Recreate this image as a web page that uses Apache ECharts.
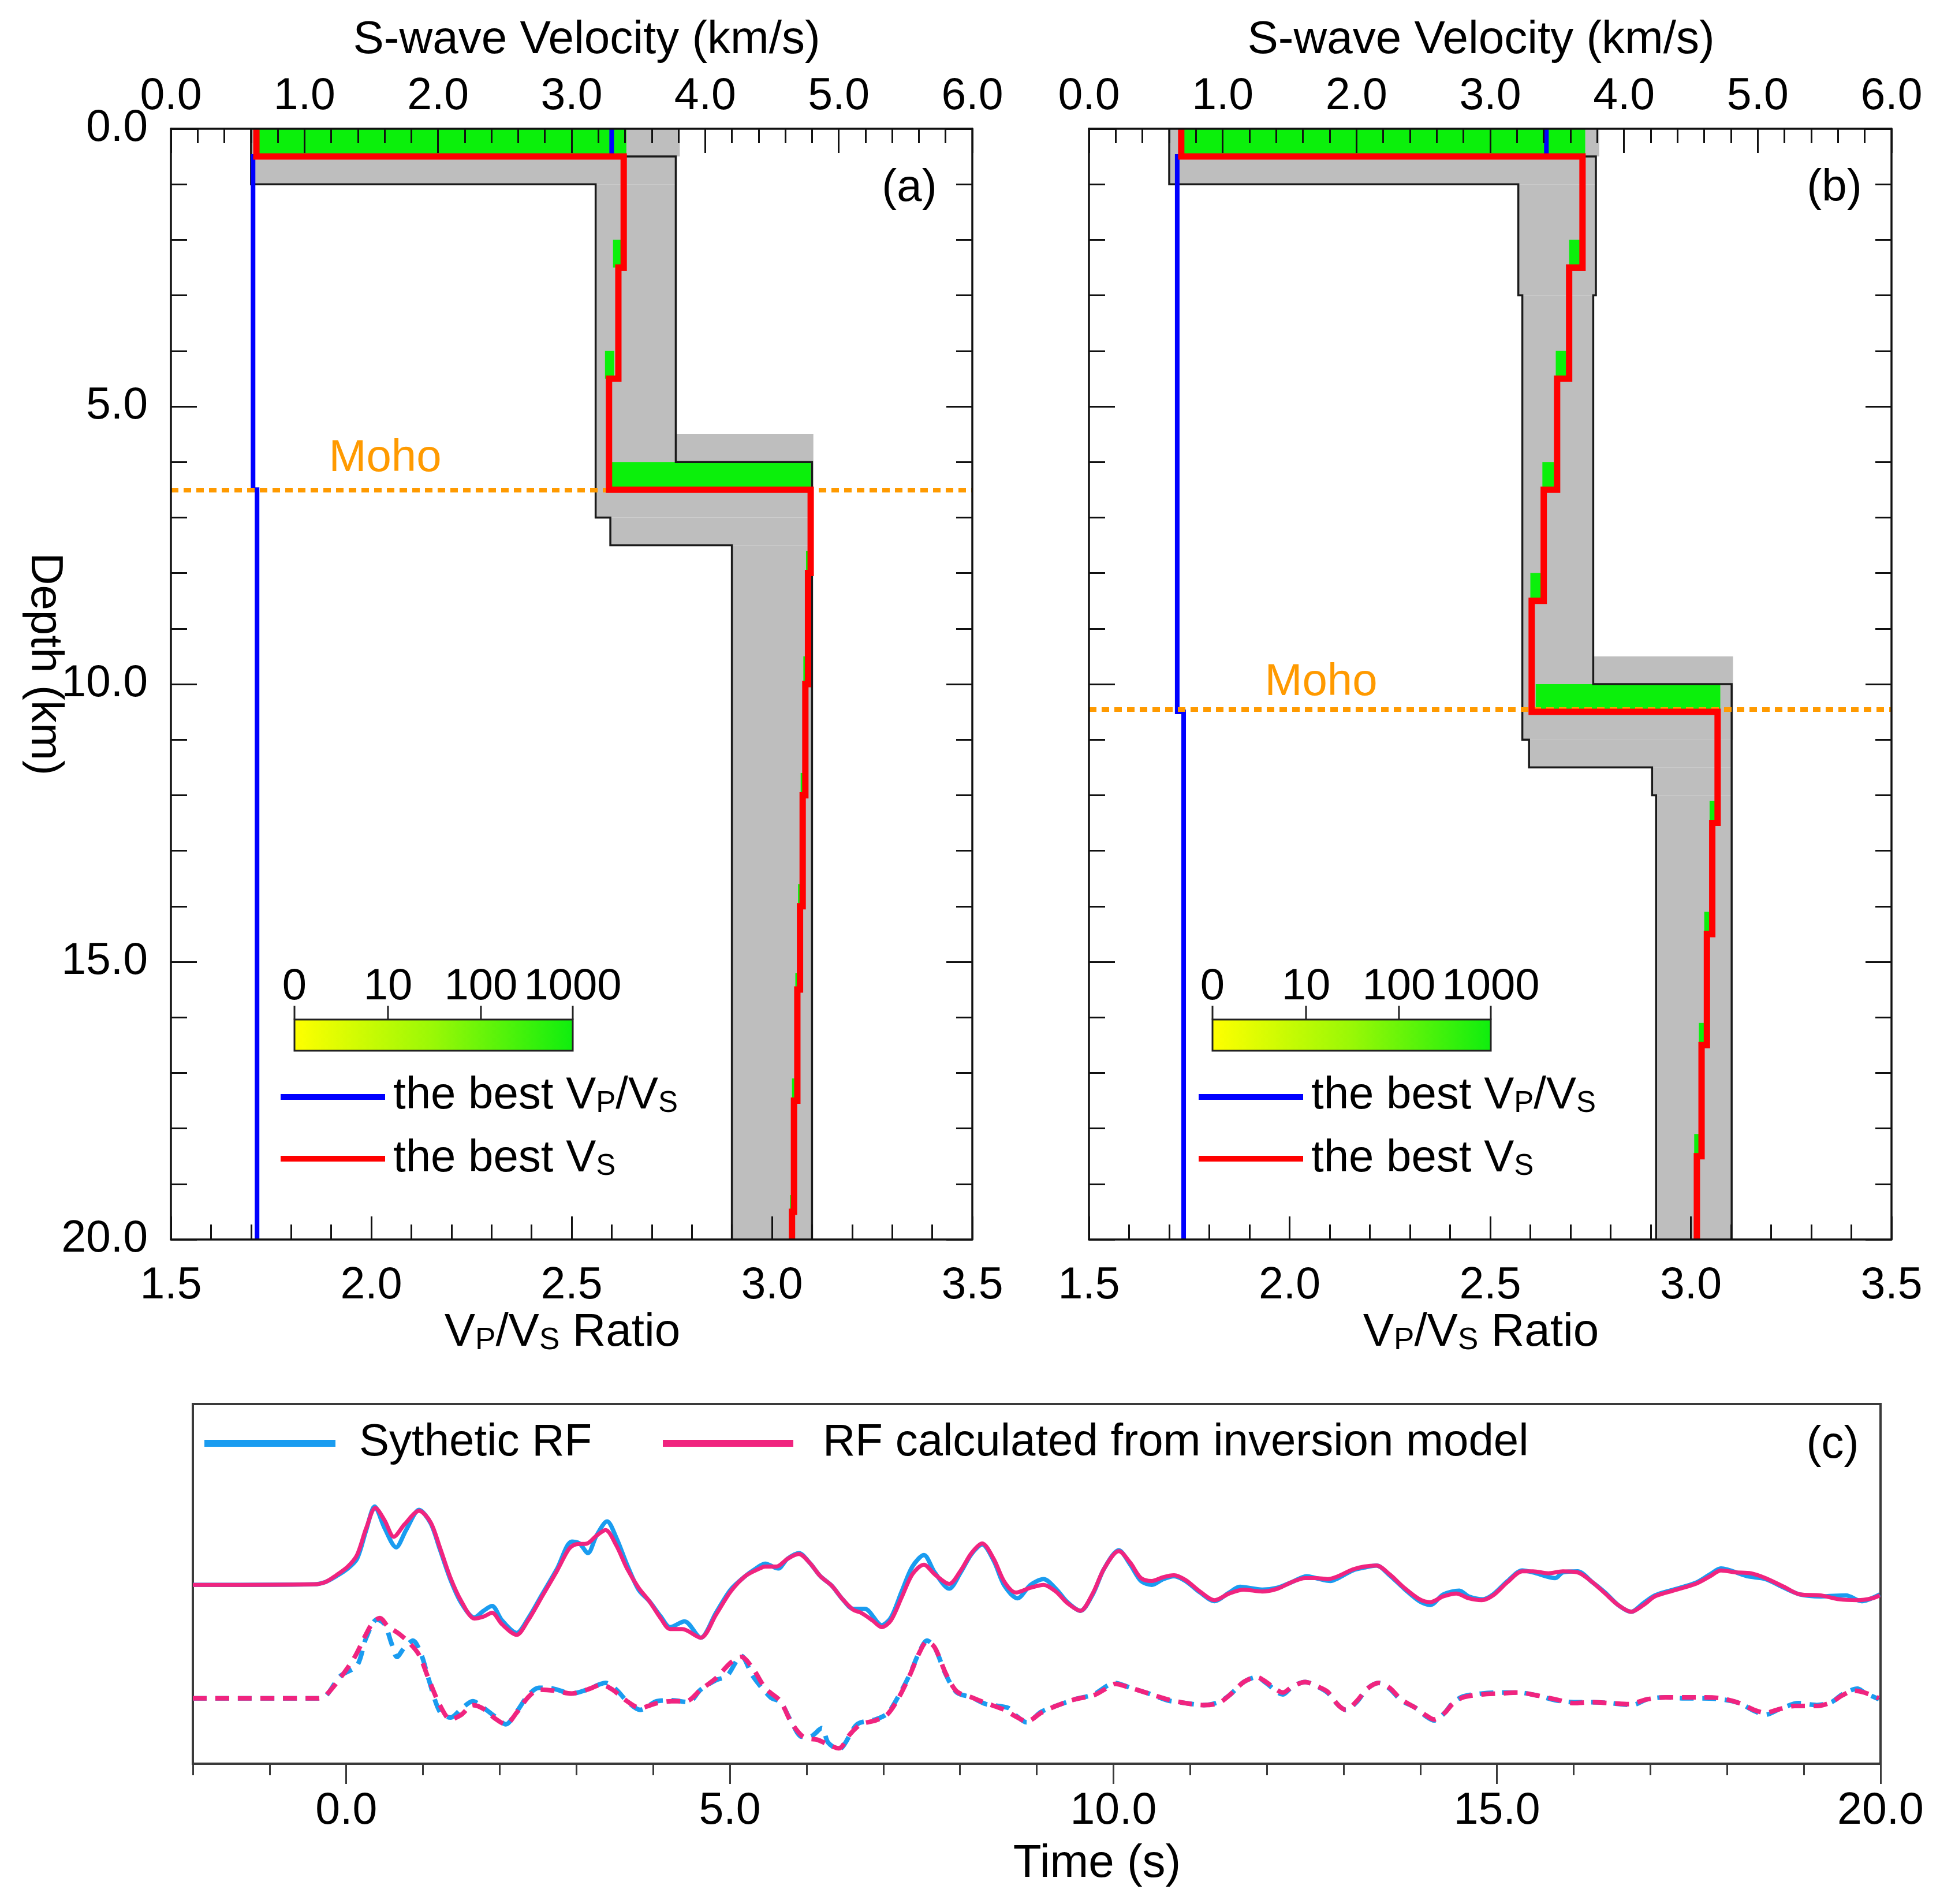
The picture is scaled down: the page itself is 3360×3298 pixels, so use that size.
<!DOCTYPE html>
<html><head><meta charset="utf-8">
<script src="https://cdn.jsdelivr.net/npm/echarts@6/dist/echarts.min.js"></script>
<style>html,body{margin:0;padding:0;background:#fff}#c{width:3360px;height:3298px}</style>
</head><body><div id="c"></div>
<script>
// ================= DATA =================
// Panel (a): layers are [depthTop, depthBottom, value]
const mohoA = 6.5;
const bestVsA = [[0,0.5,0.64],[0.5,2.5,3.39],[2.5,4.5,3.35],[4.5,6.5,3.28],[6.5,8,4.79],[8,10,4.77],[10,12,4.75],[12,14,4.73],[14,15.5,4.71],[15.5,17.5,4.69],[17.5,19.5,4.665],[19.5,20,4.65]];
const bestVpVsA = [[0,0.5,2.60],[0.5,6.5,1.705],[6.5,20,1.715]];
const minVsA = [[0,1,0.6],[1,7,3.18],[7,7.5,3.29],[7.5,20,4.2]];
const maxVsA = [[0.5,0.5,3.40],[0.5,6,3.78],[6,20,4.80]];
// cells: [depthTop, depthBottom, vsMin, vsMax]
const greyA = [[0,0.5,0.6,3.81],[0.5,1,0.6,3.78],[1,5.5,3.18,3.78],[5.5,7,3.18,4.81],[7,7.5,3.29,4.80],[7.5,20,4.2,4.80]];
const greenA = [[0,0.5,0.64,3.41],[2,2.5,3.31,3.39],[4,4.5,3.25,3.32],[6,6.5,3.29,4.79],[7.6,8,4.755,4.79],[9.5,10,4.735,4.77],[11.6,12,4.715,4.75],[13.6,14,4.695,4.73],[15.2,15.5,4.675,4.71],[17.1,17.5,4.65,4.69],[19.2,19.5,4.635,4.665]];

// Panel (b)
const mohoB = 10.45;
const bestVsB = [[0,0.5,0.69],[0.5,2.5,3.69],[2.5,4.5,3.59],[4.5,6.5,3.50],[6.5,8.5,3.40],[8.5,10.5,3.31],[10.5,12.5,4.70],[12.5,14.5,4.66],[14.5,16.5,4.62],[16.5,18.5,4.58],[18.5,20,4.545]];
const bestVpVsB = [[0,0.5,2.64],[0.5,10.5,1.72],[10.5,20,1.736]];
const minVsB = [[0,1,0.6],[1,3,3.21],[3,11,3.24],[11,11.5,3.29],[11.5,12,4.21],[12,20,4.24]];
const maxVsB = [[0.5,0.5,3.70],[0.5,3,3.79],[3,10,3.77],[10,20,4.805]];
const greyB = [[0,0.5,0.6,3.815],[0.5,1,0.6,3.79],[1,3,3.21,3.79],[3,9.5,3.24,3.77],[9.5,11,3.24,4.815],[11,11.5,3.29,4.805],[11.5,12,4.21,4.805],[12,20,4.24,4.805]];
const greenB = [[0,0.5,0.69,3.71],[2,2.5,3.59,3.67],[4,4.5,3.49,3.58],[6,6.5,3.39,3.48],[8,8.5,3.30,3.39],[10,10.5,3.34,4.72],[12.1,12.5,4.64,4.70],[14.1,14.5,4.60,4.66],[16.1,16.5,4.56,4.62],[18.1,18.5,4.525,4.58]];

const colorbarLabels = ['0','10','100','1000'];

// Panel (c): [time (s), amplitude]
const upperOffset = 0;
const lowerOffset = -0.59;
const rfSynUpper = [[-2.00,0.000],[-0.42,0.003],[-0.27,0.015],[-0.13,0.045],[0.02,0.085],[0.14,0.135],[0.26,0.285],[0.37,0.407],[0.50,0.295],[0.65,0.195],[0.78,0.285],[0.95,0.390],[1.10,0.320],[1.22,0.185],[1.36,0.025],[1.50,-0.095],[1.67,-0.170],[1.79,-0.135],[1.90,-0.110],[2.03,-0.185],[2.22,-0.250],[2.37,-0.175],[2.56,-0.045],[2.75,0.085],[2.94,0.225],[3.04,0.215],[3.15,0.165],[3.26,0.255],[3.40,0.330],[3.52,0.245],[3.66,0.105],[3.81,-0.025],[3.95,-0.085],[4.10,-0.165],[4.22,-0.220],[4.41,-0.190],[4.62,-0.275],[4.82,-0.145],[5.01,-0.025],[5.20,0.045],[5.34,0.085],[5.46,0.110],[5.63,0.085],[5.75,0.135],[5.90,0.165],[6.04,0.115],[6.18,0.045],[6.33,-0.005],[6.47,-0.075],[6.61,-0.125],[6.76,-0.125],[6.98,-0.210],[7.10,-0.170],[7.24,-0.035],[7.38,0.095],[7.53,0.155],[7.67,0.065],[7.86,-0.020],[8.01,0.065],[8.15,0.160],[8.29,0.210],[8.44,0.125],[8.58,-0.005],[8.75,-0.070],[8.92,0.000],[9.09,0.030],[9.25,-0.020],[9.40,-0.090],[9.57,-0.135],[9.73,-0.050],[9.88,0.085],[10.07,0.180],[10.22,0.105],[10.36,0.020],[10.50,0.000],[10.65,0.030],[10.79,0.045],[10.94,0.020],[11.13,-0.040],[11.32,-0.085],[11.51,-0.040],[11.65,-0.010],[11.94,-0.025],[12.14,-0.015],[12.33,0.015],[12.52,0.045],[12.64,0.035],[12.83,0.020],[12.93,0.035],[13.12,0.075],[13.27,0.090],[13.43,0.100],[13.60,0.050],[13.79,-0.020],[13.99,-0.085],[14.13,-0.105],[14.30,-0.050],[14.51,-0.030],[14.63,-0.060],[14.82,-0.075],[14.95,-0.050],[15.14,0.020],[15.33,0.075],[15.47,0.065],[15.76,0.035],[15.86,0.065],[16.05,0.070],[16.24,0.015],[16.41,-0.040],[16.58,-0.105],[16.75,-0.140],[16.91,-0.095],[17.06,-0.055],[17.30,-0.025],[17.59,0.010],[17.78,0.055],[17.92,0.085],[18.26,0.045],[18.50,0.030],[18.74,-0.015],[18.95,-0.050],[19.22,-0.060],[19.55,-0.055],[19.75,-0.085],[19.99,-0.050]];
const rfInvUpper = [[-2.00,0.000],[-0.42,0.003],[-0.27,0.015],[-0.13,0.050],[0.02,0.095],[0.14,0.155],[0.26,0.295],[0.38,0.400],[0.50,0.335],[0.62,0.250],[0.76,0.315],[0.95,0.385],[1.10,0.325],[1.22,0.195],[1.36,0.035],[1.50,-0.085],[1.67,-0.175],[1.79,-0.165],[1.90,-0.145],[2.03,-0.205],[2.22,-0.260],[2.37,-0.185],[2.56,-0.055],[2.75,0.075],[2.90,0.185],[2.99,0.210],[3.14,0.215],[3.26,0.255],[3.38,0.285],[3.52,0.205],[3.66,0.085],[3.81,-0.015],[3.95,-0.085],[4.10,-0.175],[4.22,-0.230],[4.38,-0.230],[4.62,-0.275],[4.82,-0.155],[5.01,-0.035],[5.20,0.045],[5.39,0.085],[5.46,0.095],[5.61,0.095],[5.75,0.135],[5.90,0.160],[6.04,0.115],[6.18,0.045],[6.33,-0.005],[6.47,-0.075],[6.61,-0.130],[6.71,-0.145],[6.86,-0.185],[6.98,-0.220],[7.10,-0.185],[7.24,-0.065],[7.38,0.055],[7.53,0.105],[7.67,0.055],[7.86,0.005],[8.01,0.075],[8.15,0.165],[8.29,0.215],[8.44,0.135],[8.58,0.015],[8.73,-0.040],[8.92,-0.015],[9.09,0.000],[9.25,-0.035],[9.40,-0.095],[9.57,-0.135],[9.73,-0.045],[9.88,0.085],[10.07,0.175],[10.22,0.115],[10.36,0.035],[10.50,0.020],[10.65,0.040],[10.79,0.050],[10.94,0.025],[11.13,-0.035],[11.32,-0.080],[11.51,-0.045],[11.70,-0.025],[11.94,-0.035],[12.14,-0.020],[12.33,0.015],[12.50,0.035],[12.64,0.035],[12.79,0.030],[12.93,0.045],[13.12,0.080],[13.27,0.095],[13.43,0.100],[13.60,0.055],[13.79,-0.015],[13.99,-0.075],[14.13,-0.090],[14.30,-0.060],[14.47,-0.045],[14.63,-0.070],[14.80,-0.080],[14.95,-0.055],[15.14,0.015],[15.33,0.070],[15.47,0.070],[15.67,0.060],[15.86,0.070],[16.05,0.065],[16.24,0.015],[16.41,-0.045],[16.58,-0.105],[16.75,-0.140],[16.91,-0.105],[17.06,-0.060],[17.30,-0.030],[17.59,0.005],[17.78,0.045],[17.92,0.075],[18.11,0.065],[18.31,0.060],[18.50,0.035],[18.74,-0.010],[18.95,-0.050],[19.22,-0.055],[19.46,-0.075],[19.70,-0.080],[19.89,-0.070],[19.99,-0.055]];
const rfSynLower = [[-2.00,0.000],[-0.37,0.000],[-0.27,0.010],[-0.08,0.115],[0.14,0.170],[0.26,0.315],[0.40,0.410],[0.50,0.385],[0.59,0.285],[0.66,0.215],[0.76,0.265],[0.87,0.300],[0.98,0.225],[1.07,0.105],[1.22,-0.070],[1.36,-0.100],[1.50,-0.055],[1.65,-0.015],[1.79,-0.050],[1.94,-0.095],[2.08,-0.135],[2.22,-0.070],[2.37,0.015],[2.51,0.055],[2.70,0.050],[2.94,0.025],[3.14,0.045],[3.38,0.080],[3.52,0.045],[3.66,-0.015],[3.83,-0.060],[4.05,-0.015],[4.24,-0.010],[4.46,-0.020],[4.62,0.045],[4.82,0.095],[4.96,0.115],[5.15,0.220],[5.30,0.115],[5.53,0.005],[5.66,-0.020],[5.80,-0.120],[5.94,-0.200],[6.04,-0.200],[6.20,-0.155],[6.28,-0.230],[6.42,-0.265],[6.66,-0.135],[6.90,-0.110],[7.05,-0.080],[7.19,0.005],[7.34,0.120],[7.48,0.250],[7.57,0.300],[7.67,0.265],[7.82,0.120],[7.96,0.030],[8.15,0.005],[8.34,-0.030],[8.63,-0.050],[8.73,-0.090],[8.87,-0.125],[9.06,-0.070],[9.25,-0.040],[9.50,-0.005],[9.74,0.020],[10.02,0.080],[10.22,0.055],[10.46,0.025],[10.70,-0.010],[10.94,-0.025],[11.18,-0.035],[11.37,-0.020],[11.51,0.015],[11.70,0.085],[11.87,0.110],[11.99,0.080],[12.21,0.020],[12.33,0.060],[12.50,0.085],[12.64,0.065],[12.79,0.030],[12.93,-0.035],[13.03,-0.060],[13.17,-0.020],[13.31,0.050],[13.46,0.080],[13.60,0.050],[13.75,-0.010],[13.94,-0.050],[14.08,-0.095],[14.18,-0.115],[14.32,-0.075],[14.42,-0.025],[14.56,0.010],[14.80,0.025],[15.04,0.030],[15.28,0.030],[15.52,0.015],[15.76,-0.010],[16.00,-0.020],[16.24,-0.020],[16.48,-0.025],[16.76,-0.035],[16.96,-0.005],[17.20,0.005],[17.44,0.000],[17.68,0.000],[17.92,-0.005],[18.16,-0.025],[18.35,-0.065],[18.50,-0.085],[18.69,-0.055],[18.93,-0.025],[19.17,-0.035],[19.36,-0.020],[19.50,0.020],[19.70,0.050],[19.79,0.030],[19.98,-0.005]];
const rfInvLower = [[-2.00,0.000],[-0.37,0.000],[-0.27,0.015],[-0.08,0.105],[0.11,0.215],[0.26,0.335],[0.35,0.395],[0.44,0.417],[0.54,0.375],[0.69,0.335],[0.83,0.285],[0.95,0.225],[1.07,0.105],[1.22,-0.035],[1.36,-0.110],[1.50,-0.085],[1.65,-0.035],[1.79,-0.055],[1.94,-0.105],[2.08,-0.135],[2.22,-0.075],[2.37,0.005],[2.51,0.045],[2.70,0.040],[2.94,0.025],[3.14,0.045],[3.33,0.070],[3.47,0.045],[3.66,-0.015],[3.83,-0.050],[4.05,-0.025],[4.24,-0.015],[4.43,-0.015],[4.62,0.045],[4.82,0.105],[5.01,0.185],[5.15,0.215],[5.30,0.155],[5.44,0.065],[5.51,0.035],[5.66,-0.015],[5.80,-0.125],[5.94,-0.195],[6.04,-0.210],[6.14,-0.215],[6.28,-0.240],[6.42,-0.260],[6.57,-0.185],[6.71,-0.135],[6.90,-0.115],[7.05,-0.085],[7.19,-0.005],[7.34,0.115],[7.48,0.245],[7.57,0.295],[7.67,0.265],[7.82,0.125],[7.96,0.035],[8.15,0.005],[8.34,-0.025],[8.58,-0.060],[8.73,-0.095],[8.87,-0.120],[9.06,-0.075],[9.25,-0.040],[9.50,-0.005],[9.74,0.015],[9.88,0.045],[10.02,0.075],[10.22,0.055],[10.46,0.025],[10.70,-0.005],[10.94,-0.025],[11.18,-0.035],[11.37,-0.025],[11.51,0.015],[11.70,0.085],[11.87,0.110],[11.99,0.085],[12.09,0.055],[12.21,0.030],[12.33,0.060],[12.50,0.085],[12.64,0.065],[12.79,0.035],[12.93,-0.035],[13.03,-0.060],[13.17,-0.015],[13.31,0.050],[13.46,0.080],[13.60,0.055],[13.75,-0.005],[13.94,-0.050],[14.08,-0.090],[14.18,-0.110],[14.32,-0.075],[14.42,-0.030],[14.56,0.005],[14.80,0.020],[15.04,0.025],[15.28,0.030],[15.52,0.015],[15.76,-0.005],[16.00,-0.025],[16.24,-0.020],[16.48,-0.025],[16.72,-0.030],[16.96,-0.005],[17.20,0.005],[17.44,0.005],[17.68,0.005],[17.92,0.000],[18.16,-0.025],[18.35,-0.060],[18.50,-0.075],[18.69,-0.055],[18.88,-0.040],[19.17,-0.040],[19.36,-0.020],[19.50,0.015],[19.65,0.040],[19.79,0.030],[19.98,0.000]];
const timeLabelValues = [0,5,10,15,20];

// ================= STYLE / HELPERS =================
const FONT = '"Liberation Sans", Arial, sans-serif';
const GREY = '#BEBEBE', GREEN = '#0BF00B', BLACK = '#111';
const BLUE_LINE = '#0000FF', RED_LINE = '#FF0000', MOHO = '#FF9A00';
const RF_BLUE = '#1A9CF0', RF_PINK = '#F0247F';
const TICK_FONT = 77;

function stepLine(layers){ const p=[]; layers.forEach(l=>{p.push([l[2],l[0]]);p.push([l[2],l[1]]);}); return p; }
function rectSeries(cells, color, xi, yi, z){
  return {type:'custom', xAxisIndex:xi, yAxisIndex:yi, z:z, silent:true,
    data: cells.map(c=>[c[2],c[3],c[0],c[1]]), encode:{x:[0,1],y:[2,3]},
    renderItem:(p,api)=>{ const a=api.coord([api.value(0),api.value(2)]); const b=api.coord([api.value(1),api.value(3)]);
      return {type:'rect', shape:{x:Math.min(a[0],b[0]), y:Math.min(a[1],b[1]), width:Math.abs(b[0]-a[0]), height:Math.abs(b[1]-a[1])}, style:{fill:color}}; }};
}
const lineAx = {show:true, onZero:false, lineStyle:{color:BLACK, width:3.5}};
const tickStyle = {color:BLACK, width:3};
function lab(margin, show){ return {show:show, margin:margin, fontSize:TICK_FONT, color:'#000', fontFamily:FONT, showMinLabel:true, showMaxLabel:true, formatter:v=>v.toFixed(1)}; }

const grids = [
  {left:296, top:223, width:1388, height:1924},
  {left:1886, top:223, width:1390, height:1924},
  {left:334, top:2432, width:2923, height:623, show:true, borderColor:'#3a3a3a', borderWidth:4},
  {left:334, top:2432, width:2923, height:623}
];
const xAxes = [], yAxes = [], series = [];

function profilePanel(gi, showDepth, grey, green, minVs, maxVs, vpvs, vs, moho){
  const xi0 = xAxes.length, xi1 = xi0+1, yi = yAxes.length;
  xAxes.push({gridIndex:gi, type:'value', position:'top', min:0, max:6, interval:1, z:10,
    axisLine:lineAx, axisTick:{show:true, inside:true, length:42, lineStyle:tickStyle},
    minorTick:{show:true, splitNumber:5, length:25, lineStyle:tickStyle},
    axisLabel:lab(17,true), splitLine:{show:false}, minorSplitLine:{show:false}});
  xAxes.push({gridIndex:gi, type:'value', position:'bottom', min:1.5, max:3.5, interval:0.5, z:10,
    axisLine:lineAx, axisTick:{show:true, inside:true, length:40, lineStyle:tickStyle},
    minorTick:{show:true, splitNumber:5, length:26, lineStyle:tickStyle},
    axisLabel:lab(42,true), splitLine:{show:false}, minorSplitLine:{show:false}});
  yAxes.push({gridIndex:gi, type:'value', position:'left', inverse:true, min:0, max:20, interval:5, z:10,
    axisLine:lineAx, axisTick:{show:true, inside:true, length:45, lineStyle:tickStyle},
    minorTick:{show:true, splitNumber:5, length:28, lineStyle:tickStyle},
    axisLabel:lab(40,showDepth), splitLine:{show:false}, minorSplitLine:{show:false}});
  yAxes.push({gridIndex:gi, type:'value', position:'right', inverse:true, min:0, max:20, interval:5, z:10,
    axisLine:lineAx, axisTick:{show:true, inside:true, length:45, lineStyle:tickStyle},
    minorTick:{show:true, splitNumber:5, length:28, lineStyle:tickStyle},
    axisLabel:{show:false}, splitLine:{show:false}, minorSplitLine:{show:false}});
  series.push(rectSeries(grey, GREY, xi0, yi, 1));
  series.push(rectSeries(green, GREEN, xi0, yi, 2));
  const env = {type:'line', xAxisIndex:xi0, yAxisIndex:yi, symbol:'none', z:3, silent:true, lineStyle:{color:'#1a1a1a', width:3.5, join:'miter'}};
  series.push(Object.assign({data:stepLine(minVs)}, env));
  series.push(Object.assign({data:stepLine(maxVs)}, env));
  series.push({type:'line', name:'the best Vp/Vs', xAxisIndex:xi1, yAxisIndex:yi, data:stepLine(vpvs), symbol:'none', z:4,
    lineStyle:{color:BLUE_LINE, width:8, join:'miter'}});
  series.push({type:'line', name:'the best Vs', xAxisIndex:xi0, yAxisIndex:yi, data:stepLine(vs), symbol:'none', z:5,
    lineStyle:{color:RED_LINE, width:11, join:'miter'},
    markLine:{symbol:['none','none'], silent:true, label:{show:false}, animation:false,
      lineStyle:{color:MOHO, width:8, type:[13,9]}, data:[{yAxis:moho}]}});
}
profilePanel(0, true, greyA, greenA, minVsA, maxVsA, bestVpVsA, bestVsA, mohoA);
profilePanel(1, false, greyB, greenB, minVsB, maxVsB, bestVpVsB, bestVsB, mohoB);

// Panel (c)
const xiC = xAxes.length, yiC = yAxes.length;
xAxes.push({gridIndex:2, type:'value', position:'bottom', min:-2, max:20, interval:1, z:10,
  axisLine:{show:true, onZero:false, lineStyle:{color:'#3a3a3a', width:4}},
  axisTick:{show:true, inside:false, length:20, lineStyle:{color:'#3a3a3a', width:3}},
  axisLabel:{show:false}, splitLine:{show:false}});
yAxes.push({gridIndex:2, type:'value', min:-0.93, max:0.94, show:false});
xAxes.push({gridIndex:3, type:'value', position:'bottom', min:-2, max:20, interval:1, z:10,
  axisLine:{show:false, onZero:false},
  axisTick:{show:true, inside:false, length:35, lineStyle:{color:'#3a3a3a', width:3}, customValues:timeLabelValues},
  axisLabel:{show:true, margin:44, fontSize:TICK_FONT, color:'#000', fontFamily:FONT, customValues:timeLabelValues, formatter:v=>v.toFixed(1)},
  splitLine:{show:false}});
yAxes.push({gridIndex:3, type:'value', min:-0.93, max:0.94, show:false});
function shifted(arr, off){ return arr.map(p=>[p[0], p[1]+off]); }
const rfBase = {type:'line', xAxisIndex:xiC, yAxisIndex:yiC, symbol:'none', smooth:0.3, silent:true};
const DASH = [24,15];
series.push(Object.assign({}, rfBase, {name:'Sythetic RF', data:shifted(rfSynUpper, upperOffset), z:3, lineStyle:{color:RF_BLUE, width:7.5}}));
series.push(Object.assign({}, rfBase, {name:'RF calculated from inversion model', data:shifted(rfInvUpper, upperOffset), z:4, lineStyle:{color:RF_PINK, width:7}}));
series.push(Object.assign({}, rfBase, {name:'Sythetic RF', data:shifted(rfSynLower, lowerOffset), z:3, lineStyle:{color:RF_BLUE, width:8, type:DASH}}));
series.push(Object.assign({}, rfBase, {name:'RF calculated from inversion model', data:shifted(rfInvLower, lowerOffset), z:4, lineStyle:{color:RF_PINK, width:8, type:DASH}}));

// ================= GRAPHIC TEXT / LEGENDS =================
function txt(x, y, text, size, opts){
  return Object.assign({type:'text', x:x, y:y, z:100, silent:true,
    style:Object.assign({text:text, fontSize:size, fontFamily:FONT, fill:'#000', align:'center', verticalAlign:'middle'}, (opts&&opts.style)||{})},
    (opts&&opts.el)||{});
}
function subText(x, y, parts, size, align){
  const s = parts.map(p=> (p[1]?'{s|':'{m|') + p[0] + '}').join('');
  return {type:'text', x:x, y:y, z:100, silent:true,
    style:{text:s, fill:'#000', align:align, verticalAlign:'middle', fontFamily:FONT, fontSize:size,
      rich:{m:{fontSize:size, fontFamily:FONT, fill:'#000', lineHeight:size+8, verticalAlign:'bottom'},
            s:{fontSize:Math.round(size*0.66), fontFamily:FONT, fill:'#000', lineHeight:size-10, verticalAlign:'bottom'}}}};
}
function hline(x1, x2, y, color, w){
  return {type:'line', z:100, silent:true, shape:{x1:x1, y1:y, x2:x2, y2:y}, style:{stroke:color, lineWidth:w, lineCap:'butt'}};
}
const graphics = [];
const panelShift = [0, 1590];
['(a)','(b)'].forEach((name, i)=>{
  const dx = panelShift[i];
  graphics.push(txt(i===0?1016:2565, 70, 'S-wave Velocity (km/s)', 80));
  graphics.push(subText(i===0?974:2565, 2305, [['V',0],['P',1],['/V',0],['S',1],[' Ratio',0]], 80, 'center'));
  graphics.push(txt(i===0?1575:3177, 326, name, 78));
  const cbX = 510 + dx, cbW = 482, cbY = 1766, cbH = 54;
  graphics.push({type:'rect', z:100, silent:true, shape:{x:cbX, y:cbY, width:cbW, height:cbH},
    style:{fill:new echarts.graphic.LinearGradient(0,0,1,0,[{offset:0,color:'#FFFF00'},{offset:0.5,color:'#99F806'},{offset:1,color:'#0EEE0E'}]), stroke:'#222', lineWidth:3}});
  const cbTickX = [0, 0.336, 0.67, 1];
  colorbarLabels.forEach((l, k)=>{
    const x = cbX + cbTickX[k]*cbW;
    graphics.push({type:'line', z:100, silent:true, shape:{x1:x, y1:1742, x2:x, y2:cbY}, style:{stroke:'#222', lineWidth:3}});
    graphics.push(txt(x, 1710, l, 76));
  });
  graphics.push(hline(486+dx, 667+dx, 1900, BLUE_LINE, 10));
  graphics.push(hline(486+dx, 667+dx, 2007, RED_LINE, 10));
  graphics.push(subText(681+dx, 1894, [['the best V',0],['P',1],['/V',0],['S',1]], 78, 'left'));
  graphics.push(subText(681+dx, 2003, [['the best V',0],['S',1]], 78, 'left'));
});
graphics.push(txt(667, 794, 'Moho', 78, {style:{fill:MOHO}}));
graphics.push(txt(2288, 1182, 'Moho', 78, {style:{fill:MOHO}}));
graphics.push(txt(77, 1150, 'Depth (km)', 78, {el:{rotation:-Math.PI/2}}));
graphics.push(txt(1900, 3229, 'Time (s)', 80));
graphics.push(txt(3174, 2503, '(c)', 78));
graphics.push(hline(354, 581, 2500, RF_BLUE, 12));
graphics.push(txt(622, 2499, 'Sythetic RF', 78, {style:{align:'left'}}));
graphics.push(hline(1148, 1374, 2500, RF_PINK, 12));
graphics.push(txt(1425, 2499, 'RF calculated from inversion model', 78, {style:{align:'left'}}));

const chart = echarts.init(document.getElementById('c'), null, {renderer:'canvas', width:3360, height:3298});
chart.setOption({
  animation:false,
  backgroundColor:'#ffffff',
  grid:grids, xAxis:xAxes, yAxis:yAxes, series:series, graphic:{elements:graphics}
});
</script>
</body></html>
